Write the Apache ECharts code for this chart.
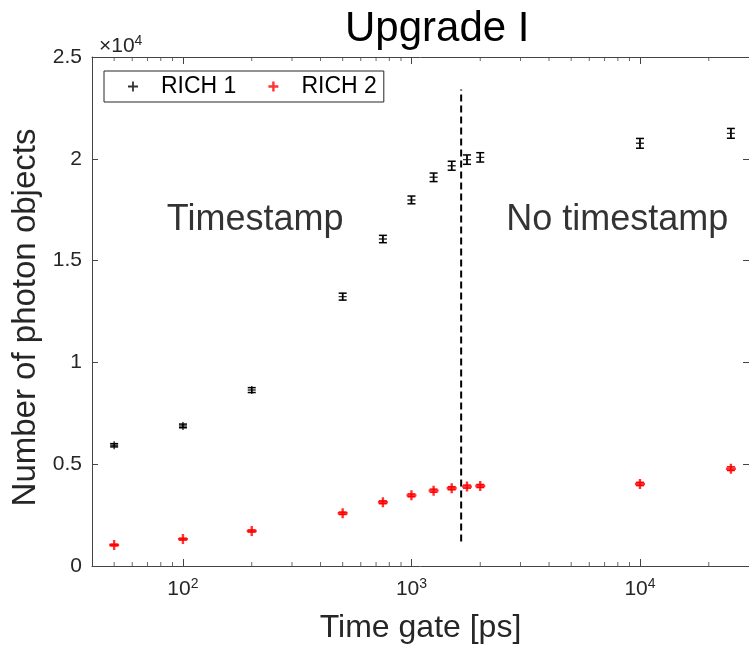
<!DOCTYPE html>
<html>
<head>
<meta charset="utf-8">
<title>Upgrade I</title>
<script src="https://cdn.jsdelivr.net/npm/echarts@6/dist/echarts.min.js"></script>
<style>
  html, body { margin: 0; padding: 0; background: #fff; }
  #chart { width: 749px; height: 650px; }
</style>
</head>
<body>
<div id="chart"></div>
<script>
// time gates [ps]
var timeGates = [50, 100, 200, 500, 750, 1000, 1250, 1500, 1750, 2000, 10000, 25000];
// number of photon objects
var rich1 = [5930, 6880, 8640, 13230, 16060, 17980, 19090, 19660, 19960, 20070, 20760, 21250];
var rich1Err = [80, 90, 120, 170, 180, 190, 210, 220, 230, 230, 240, 240];
var rich2 = [1030, 1320, 1720, 2590, 3130, 3470, 3700, 3820, 3900, 3930, 4030, 4780];
var rich2Err = [40, 45, 50, 60, 70, 70, 75, 75, 75, 75, 80, 90];
// boundary between "Timestamp" and "No timestamp"
var boundaryX = 1650;
var boundaryY = [1200, 23400];
// log axis minor ticks
var minorTicks = [50, 60, 70, 80, 90, 200, 300, 400, 500, 600, 700, 800, 900,
  2000, 3000, 4000, 5000, 6000, 7000, 8000, 9000, 20000];
var notes = [[85, 17000, 'Timestamp'], [2600, 17000, 'No timestamp']];

var FONT = 'Liberation Sans';
var AXIS = '#444444';
var plusBlack = 'path://M4.1,0H5.9V4.1H10V5.9H5.9V10H4.1V5.9H0V4.1H4.1Z';
var plusRed = 'path://M3.8,0H6.2V3.8H10V6.2H6.2V10H3.8V6.2H0V3.8H3.8Z';

function pairs(xs, ys) {
  return xs.map(function (x, i) { return [x, ys[i]]; });
}
function errRows(xs, ys, es) {
  return xs.map(function (x, i) { return [x, ys[i] - es[i], ys[i] + es[i]]; });
}
function errorBars(color) {
  return function (params, api) {
    var x = api.value(0);
    var lo = api.coord([x, api.value(1)]);
    var hi = api.coord([x, api.value(2)]);
    var w = 4;
    var st = { stroke: color, lineWidth: 1.5 };
    return {
      type: 'group',
      children: [
        { type: 'line', shape: { x1: lo[0], y1: lo[1], x2: hi[0], y2: hi[1] }, style: st },
        { type: 'line', shape: { x1: lo[0] - w, y1: lo[1], x2: lo[0] + w, y2: lo[1] }, style: st },
        { type: 'line', shape: { x1: hi[0] - w, y1: hi[1], x2: hi[0] + w, y2: hi[1] }, style: st }
      ]
    };
  };
}

var chart = echarts.init(document.getElementById('chart'), null, { renderer: 'canvas' });

var xCommon = {
  type: 'log',
  logBase: 10,
  min: 40,
  max: 30000,
  splitLine: { show: false },
  axisLine: { show: true, onZero: false, lineStyle: { color: AXIS, width: 1 } },
  axisTick: { show: true, inside: true, length: 7, lineStyle: { color: AXIS } }
};
var supStyle = {
  fontFamily: FONT, fontSize: 14, fontWeight: 'normal', color: '#262626', padding: [0, 0, 11, 0]
};

chart.setOption({
  animation: false,
  backgroundColor: '#fff',
  textStyle: { fontFamily: FONT },
  title: [
    {
      text: 'Upgrade I', left: 340, top: 3,
      textStyle: { fontFamily: FONT, fontSize: 42, fontWeight: 'normal', color: '#000' }
    },
    {
      text: '{b|×10}{sup|4}', left: 94, top: 29,
      textStyle: {
        fontFamily: FONT, fontSize: 21, fontWeight: 'normal', color: '#262626',
        rich: {
          b: { fontFamily: FONT, fontSize: 21, fontWeight: 'normal', color: '#262626' },
          sup: supStyle
        }
      }
    }
  ],
  legend: {
    left: 104, top: 71,
    padding: [4, 7, 4, 24],
    itemWidth: 10, itemHeight: 10, itemGap: 32,
    borderColor: '#262626', borderWidth: 1, backgroundColor: '#fff',
    textStyle: { fontFamily: FONT, fontSize: 23, color: '#000', padding: [0, 0, 0, 18] },
    data: [
      { name: 'RICH 1', icon: plusBlack },
      { name: 'RICH 2', icon: plusRed }
    ]
  },
  grid: { left: 92, top: 57, width: 659, height: 509 },
  xAxis: [
    Object.assign({}, xCommon, {
      position: 'bottom',
      name: 'Time gate [ps]', nameLocation: 'middle', nameGap: 46,
      nameTextStyle: { fontFamily: FONT, fontSize: 32, color: '#262626' },
      axisLabel: {
        show: true, margin: 11, showMinLabel: false, showMaxLabel: false,
        fontFamily: FONT, fontSize: 21, color: '#262626',
        formatter: function (v) { return '10{sup|' + Math.round(Math.log10(v)) + '}'; },
        rich: { sup: supStyle }
      }
    }),
    Object.assign({}, xCommon, {
      position: 'top',
      axisLabel: { show: false }
    })
  ],
  yAxis: [
    {
      type: 'value', min: 0, max: 25000, interval: 5000, position: 'left',
      name: 'Number of photon objects', nameLocation: 'middle', nameGap: 43,
      nameTextStyle: { fontFamily: FONT, fontSize: 33, color: '#262626', padding: [0, 12, 0, 0] },
      splitLine: { show: false },
      axisLine: { show: true, onZero: false, lineStyle: { color: AXIS, width: 1 } },
      axisTick: { show: true, inside: true, length: 6, lineStyle: { color: AXIS } },
      axisLabel: {
        margin: 10, fontFamily: FONT, fontSize: 21, color: '#262626',
        formatter: function (v) { return String(v / 10000); }
      }
    },
    {
      type: 'value', min: 0, max: 25000, interval: 5000, position: 'right',
      splitLine: { show: false },
      axisLine: { show: true, onZero: false, lineStyle: { color: AXIS, width: 1 } },
      axisTick: { show: true, inside: true, length: 6, lineStyle: { color: AXIS } },
      axisLabel: { show: false }
    }
  ],
  series: [
    {
      name: 'minor-bottom', type: 'scatter', silent: true, xAxisIndex: 0,
      symbol: 'rect', symbolSize: [1, 4], symbolOffset: [0, -2],
      itemStyle: { color: AXIS }, clip: false,
      data: minorTicks.map(function (v) { return [v, 0]; })
    },
    {
      name: 'minor-top', type: 'scatter', silent: true, xAxisIndex: 0,
      symbol: 'rect', symbolSize: [1, 4], symbolOffset: [0, 2],
      itemStyle: { color: AXIS }, clip: false,
      data: minorTicks.map(function (v) { return [v, 25000]; })
    },
    {
      name: 'boundary', type: 'line', silent: true, symbol: 'none',
      lineStyle: { color: '#000', width: 2, type: [7, 4] },
      data: boundaryY.map(function (y) { return [boundaryX, y]; })
    },
    {
      name: 'RICH 1 err', type: 'custom', silent: true,
      renderItem: errorBars('#000'),
      encode: { x: 0, y: [1, 2] },
      data: errRows(timeGates, rich1, rich1Err)
    },
    {
      name: 'RICH 2 err', type: 'custom', silent: true,
      renderItem: errorBars('#ff0000'),
      encode: { x: 0, y: [1, 2] },
      data: errRows(timeGates, rich2, rich2Err)
    },
    {
      name: 'RICH 1', type: 'scatter', symbol: plusBlack, symbolSize: 8,
      itemStyle: { color: '#000' },
      data: pairs(timeGates, rich1)
    },
    {
      name: 'RICH 2', type: 'scatter', symbol: plusRed, symbolSize: 10,
      itemStyle: { color: '#ff0000' },
      data: pairs(timeGates, rich2)
    },
    {
      name: 'notes', type: 'scatter', silent: true, symbolSize: 0,
      label: {
        show: true, position: 'right', distance: 0,
        fontFamily: FONT, fontSize: 36, color: '#000',
        formatter: function (p) { return p.value[2]; }
      },
      data: notes
    }
  ]
});
</script>
</body>
</html>
